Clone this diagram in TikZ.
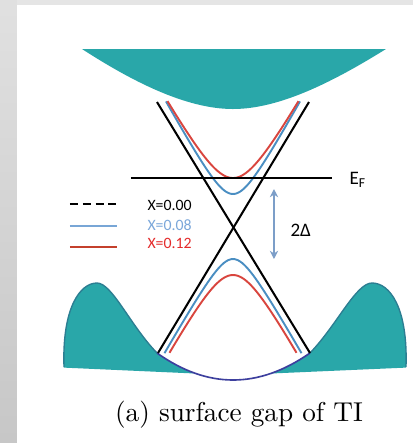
\documentclass[tikz,border=0pt]{standalone}
\usepackage{fontspec}
\newfontfamily\labfont{Carlito}
\usetikzlibrary{arrows.meta, positioning}
\definecolor{bandteal}{HTML}{29A7A9}
\definecolor{bandedge}{HTML}{2C7E92}
\definecolor{bowlblue}{HTML}{3D3F9E}
\definecolor{xblue}{HTML}{4A8EC2}
\definecolor{xred}{HTML}{D9453E}
\definecolor{legblue}{HTML}{78A6D6}
\definecolor{legred}{HTML}{C4402C}
\definecolor{txtblue}{HTML}{7BA7DA}
\definecolor{txtred}{HTML}{E42B2B}
\definecolor{gapblue}{HTML}{7C9EC8}

\begin{document}
\begin{tikzpicture}[x=0.367pt, y=-0.367pt, >=Stealth,
    cone/.style={black, line width=0.75pt},
    band/.style={line width=0.7pt},
    leg/.style={font=\labfont\fontsize{5.8}{7}\selectfont, anchor=west, inner sep=0pt},
    big/.style={font=\labfont\fontsize{7}{8}\selectfont, anchor=west, inner sep=0pt}]
    \useasboundingbox (0,0) rectangle (413,443);
    % page
    \fill[white] (0,0) rectangle (413,443);
    \shade[top color=black!12, bottom color=black!22] (0,0) rectangle (17,443);
    \fill[black!10] (17,0) rectangle (413,5);

    % Conduction band
    \fill[bandteal] (82,49) -- (386,49) .. controls (336,80) and (281,109) .. (233,109)
        .. controls (185,109) and (130,80) .. (82,49) -- cycle;

    % Valence band
    \begin{scope}
    \clip (50,367) -- (195,373.5) -- (271,373.5) -- (420,367) -- (420,250) -- (50,250) -- cycle;
    \fill[bandteal] (64,367) .. controls (62,308) and (80,283) .. (97,283)
        .. controls (112,283) and (130,325) .. (157,353)
        .. controls (207.7,389) and (258.3,389) .. (310,353)
        .. controls (337,325) and (356,283) .. (372,283)
        .. controls (390,283) and (408,308) .. (406,367) -- (406,400) -- (64,400) -- cycle;
    \end{scope}
    \draw[bandedge, line width=0.5pt] (64,367) .. controls (62,308) and (80,283) .. (97,283)
        .. controls (112,283) and (130,325) .. (157,353);
    \draw[bandedge, line width=0.5pt] (310,353) .. controls (337,325) and (356,283) .. (372,283)
        .. controls (390,283) and (408,308) .. (406,367);
    \draw[bowlblue, line width=0.6pt] (157,353) .. controls (207.7,389) and (258.3,389) .. (310,353);

    % Dirac cone, x=0.00
    \coordinate (cl-top) at (157,102);
    \coordinate (cr-bot) at (310,353);
    \coordinate (cr-top) at (309,102);
    \coordinate (cl-bot) at (158,353);
    \draw[cone] (cl-top) -- (cr-bot);
    \draw[cone] (cr-top) -- (cl-bot);

    % gapped surface bands
    \draw[xblue, band] plot[domain=-67:67, samples=61] ({233+\x}, {228-10*sqrt((0.182*\x)^2+11.56)});
    \draw[xblue, band] plot[domain=-68.5:68.5, samples=61] ({233+\x}, {228+10*sqrt((0.177*\x)^2+9.61)});
    \draw[xred, band] plot[domain=-65.5:65.5, samples=61] ({233+\x}, {228-10*sqrt((0.178*\x)^2+25)});
    \draw[xred, band] plot[domain=-63.5:63.5, samples=61] ({233+\x}, {228+10*sqrt((0.182*\x)^2+22.09)});

    % Fermi level
    \coordinate (ef-l) at (131,178);
    \coordinate (ef-r) at (332,178);
    \draw[black, line width=0.6pt] (ef-l) -- (ef-r);
    \node[big] (ef) at (349,180) {E\textsubscript{F}};

    % gap
    \coordinate (gap-top) at (274,189);
    \coordinate (gap-bot) at (274,259);
    \draw[<->, gapblue, line width=0.8pt, >={Stealth[length=3pt, width=3pt]}] (gap-top) -- (gap-bot);
    \node[big] (gap) at (290,230) {2Δ};

    % legend
    \coordinate (l0a) at (70,204);
    \coordinate (l0b) at (117,204);
    \coordinate (l1a) at (70,226);
    \coordinate (l1b) at (117,226);
    \coordinate (l2a) at (70,247);
    \coordinate (l2b) at (117,247);
    \draw[black, line width=0.7pt, dash pattern=on 2.9pt off 1.8pt] (l0a) -- (l0b);
    \draw[legblue, line width=0.7pt] (l1a) -- (l1b);
    \draw[legred, line width=0.7pt] (l2a) -- (l2b);
    \node[leg, text=black] (x0) at (147,205) {X=0.00};
    \node[leg, text=txtblue] (x1) at (147,225) {X=0.08};
    \node[leg, text=txtred] (x2) at (147,243) {X=0.12};

    \node (cap) at (239,415) {(a) surface gap of TI};
\end{tikzpicture}
\end{document}
